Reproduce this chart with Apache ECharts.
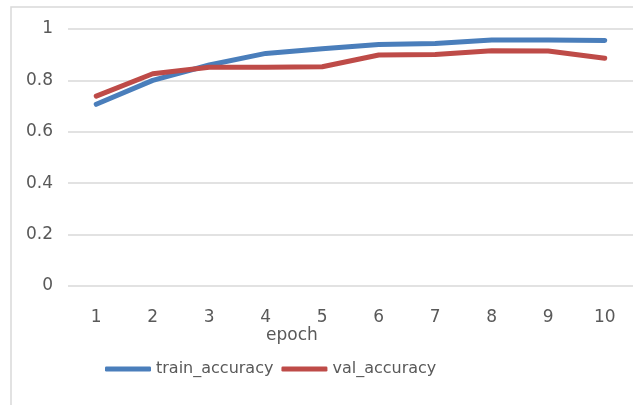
<!DOCTYPE html>
<html>
<head>
<meta charset="utf-8">
<script src="https://cdn.jsdelivr.net/npm/echarts@6/dist/echarts.min.js"></script>
<style>html,body{margin:0;padding:0;background:#fff}#c{width:633px;height:405px}</style>
</head>
<body>
<div id="c"></div>
<script>
var epochs = ['1','2','3','4','5','6','7','8','9','10'];
var trainAccuracy = [0.707, 0.800, 0.860, 0.905, 0.923, 0.940, 0.944, 0.957, 0.957, 0.955];
var valAccuracy = [0.739, 0.826, 0.851, 0.851, 0.853, 0.899, 0.901, 0.915, 0.914, 0.886];
var yTicks = { min: 0, max: 1, interval: 0.2 };

var FONT = 'DejaVu Sans';
var chart = echarts.init(document.getElementById('c'), null, { renderer: 'canvas' });
chart.setOption({
  animation: false,
  backgroundColor: '#fff',
  grid: { left: 68, right: -4, top: 29, bottom: 119, containLabel: false },
  graphic: [
    { type: 'rect', shape: { x: 11, y: 7, width: 640, height: 420 },
      style: { fill: 'none', stroke: '#d9d9d9', lineWidth: 1.5 }, silent: true },
    { type: 'text', left: 266, top: 327,
      style: { text: 'epoch', fill: '#595959', fontFamily: FONT, fontSize: 17 } }
  ],
  legend: {
    left: 100, top: 356,
    itemWidth: 46, itemHeight: 5, itemGap: 8,
    icon: 'roundRect',
    textStyle: { fontFamily: FONT, fontSize: 16, color: '#595959' },
    data: ['train_accuracy', 'val_accuracy']
  },
  xAxis: {
    type: 'category', data: epochs, boundaryGap: true,
    axisLine: { show: false }, axisTick: { show: false },
    axisLabel: { margin: 23, fontFamily: FONT, fontSize: 17, color: '#595959' }
  },
  yAxis: {
    type: 'value', min: yTicks.min, max: yTicks.max, interval: yTicks.interval,
    axisLine: { show: false }, axisTick: { show: false },
    axisLabel: { margin: 15, fontFamily: FONT, fontSize: 17, color: '#595959' },
    splitLine: { lineStyle: { color: '#d9d9d9', width: 1.5 } }
  },
  series: [
    { name: 'train_accuracy', type: 'line', data: trainAccuracy, symbol: 'none',
      lineStyle: { color: '#4a7ebb', width: 5, cap: 'round', join: 'round' },
      itemStyle: { color: '#4a7ebb' } },
    { name: 'val_accuracy', type: 'line', data: valAccuracy, symbol: 'none',
      lineStyle: { color: '#be4b48', width: 5, cap: 'round', join: 'round' },
      itemStyle: { color: '#be4b48' } }
  ]
});
</script>
</body>
</html>
